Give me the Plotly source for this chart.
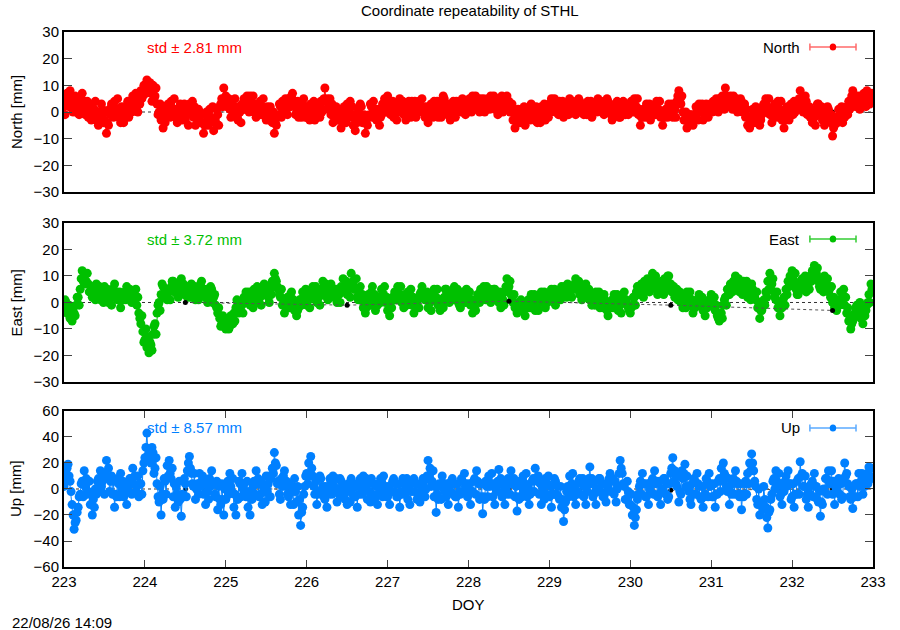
import plotly.graph_objects as go

# solutions at DOY 223.000 + k/40
north = [
    2, 4, 6, 8, 5, 3, 0, 2, 5, 7, 4, 1, -2, 0, 3, 1, -3, -5, -2, 1,
    -3, -8, -5, -1, 2, 4, 1, -2, -4, -1, 2, 0, -2, 3, 6, 4, 2, 5, 8, 6,
    10, 12, 9, 7, 10, 6, 3, 0, -3, -6, -4, -1, 2, 4, 1, -2, -4, -1, 2, 0,
    -3, -1, 3, 1, -2, -5, -3, 0, -4, -8, -5, -2, 1, -3, -7, -4, -1, 2, 5, 9,
    6, 3, 1, 4, 2, -1, -3, 0, 3, 5, 2, 4, 6, 3, 0, -2, 1, 4, 2, -1,
    -3, 0, 2, -4, -8, -5, -1, 2, 4, 1, 3, 5, 2, 7, 4, 1, -2, 1, 3, 0,
    -2, 1, 3, 0, -3, -1, 2, 4, 1, 9, 5, 2, -1, -4, -2, 1, -3, -6, -3, 0,
    3, 1, -2, -5, -7, -4, -1, 2, -3, -8, -5, -1, 2, 4, 1, -3, -5, -1, 2, 4,
    6, 3, 1, -2, 0, 3, 5, 2, -1, -3, 0, 2, 4, 1, -2, 0, 3, 5, 2, -1,
    -4, -1, 2, 4, 1, -2, 1, 3, 5, 2, 0, -3, -1, 2, 4, 1, 3, 5, 2, 0,
    2, 4, 6, 3, 1, 3, 5, 2, 0, 2, 4, 6, 3, 1, 2, 5, 3, 0, 2, 6,
    4, 1, -3, -6, -4, -1, 1, -2, -5, -3, 0, 3, 1, -2, -4, -1, 2, 0, -3, 1,
    3, 5, 2, 0, 2, 4, 1, -2, 0, 3, 5, 2, 0, -1, 2, 4, 1, -1, 2, 4,
    1, -2, 0, 3, 5, 2, 0, -1, 2, 4, 1, -3, -1, 2, 0, -2, 1, 3, 1, -1,
    2, 4, 5, 2, -1, -5, -2, 1, 3, 0, -3, -1, 2, 4, 1, -2, -5, -2, 1, 3,
    0, -2, 1, 4, 8, 3, 0, -3, -6, -4, -1, -5, -2, 1, 3, 0, -3, -1, 2, 0,
    2, 4, 1, 3, 5, 2, 4, 9, 5, 2, 4, 6, 3, 0, 2, 4, 1, -2, -5, -6,
    -3, -1, 2, -2, -5, -1, 3, 5, 2, -1, -4, -2, 1, 4, 1, -3, -6, -2, 1, -1,
    2, 4, 1, 3, 8, 4, 2, 4, 1, -2, -4, -2, 1, 3, 0, -3, -5, -2, 1, -4,
    -9, -5, -2, 1, -1, -4, -2, 2, 4, 3, 8, 5, 2, 4, 6, 3, 5, 8, 6, 4,
]

# solutions at DOY 223.0125 + k/40
north_b = [
    -1, 7, 2, 3, 0, 6, 4, -1, 1, 3, -1, 4, 2, -3, -2, 4, 0, -1, 3, -4,
    0, -4, 1, 3, -2, 0, 5, 1, 2, -4, -2, 4, 1, 0, 2, 7, 0, 3, 5, 10,
    7, 8, 11, 4, 5, 9, -1, 3, 0, -2, 2, 3, -2, 0, 5, 1, 0, 3, -3, 3,
    1, -5, 0, 4, 2, -1, 1, -4, -1, -5, 0, -5, -2, 2, -3, 1, -5, 3, 2, 5,
    2, 5, -2, 0, 5, 2, 1, -4, 1, 1, 6, 0, 2, 6, 3, -1, 3, -1, 5, 1,
    2, -3, -2, 0, -4, -2, 3, -2, 0, 5, -1, 2, 6, 3, -1, 4, 2, -2, 5, -2,
    2, -3, -1, 4, 1, 3, -2, 0, 5, 4, 1, 5, 3, 0, 2, -3, 0, -2, 2, -4,
    -1, 4, 2, -1, -3, 1, 3, -4, -1, -4, -2, 3, -2, 0, -3, 1, -2, 3, 5, 0,
    2, -1, 4, 2, -3, 1, 0, 4, 2, 1, 4, -2, 0, 4, 2, 4, 0, 1, -2, 2,
    0, 3, -2, 0, 4, 2, -2, 6, 0, -1, 3, 1, 4, -2, 0, 4, 0, 2, -1, 3,
    5, 0, 3, 6, 4, 0, 2, 5, 3, 5, 1, 2, 6, 4, -1, 2, 6, 3, 5, 2,
    0, 3, 0, -2, 1, -4, -3, 2, 0, 1, -3, -1, -3, 2, 0, -4, -2, 3, 0, -2,
    0, 1, 5, 3, -1, 0, 4, 1, 3, -1, 1, 4, 3, 2, 5, 0, 3, 2, -1, 0,
    4, 2, 3, 0, 1, 4, 3, 2, 5, 0, -1, 1, 3, 4, -2, 2, 4, -1, 3, 1,
    4, 0, 2, 5, 1, -2, 1, -2, 1, 3, 0, 2, -1, 1, 4, 0, -2, 1, -2, 0,
    3, 2, -2, 6, 4, 6, -3, 0, -3, -1, -4, -1, 2, -3, 0, 3, 1, 3, -2, 3,
    0, 1, 5, 0, 2, 6, 1, 6, 3, 6, 1, 3, 5, 3, 5, 0, 3, 1, -2, -3,
    1, -4, -1, 1, -3, 2, 0, 2, 5, 1, -1, 3, -2, 0, 4, -1, -3, 2, -3, 3,
    -1, 0, 4, 5, 2, 0, 6, -1, 2, 1, 0, -5, 3, -1, 2, 0, -1, 2, -3, -1,
    -6, -2, -4, -3, 2, 0, 1, -1, 1, 6, 4, 2, 6, 1, 3, 7, 2, 4, 3, 7,
]

east = [
    -2, 0, -3, -6, -7, -4, -1, 2, 5, 12, 10, 8, 7, 4, 2, 5, 7, 4, 1, 3,
    6, 3, 0, 2, 5, 7, 4, 1, -2, 1, 4, 6, 3, 1, 4, 2, -1, -4, -8, -11,
    -14, -17, -19, -16, -12, -8, -4, 0, 3, 6, 3, 1, 4, 6, 8, 5, 3, 6, 9, 7,
    4, 2, 5, 7, 4, 1, 3, 6, 8, 5, 2, 0, 3, 5, 2, -1, -4, -6, -8, -9,
    -10, -8, -9, -6, -4, -2, 0, -3, -1, 2, 4, 1, -1, 2, 5, 3, 0, 2, 5, 7,
    4, 2, 5, 8, 11, 8, 5, 2, -1, -4, -2, 1, 3, 0, -3, -5, -2, 1, 4, 2,
    -1, 1, 4, 6, 3, 0, 2, 5, 8, 5, 2, 4, 7, 5, 2, 0, 3, 6, 9, 6,
    3, 7, 11, 8, 5, 2, 4, 1, -2, -4, -1, 2, 4, 1, -3, -1, 2, 5, 3, 0,
    -3, -5, -2, 1, 4, 6, 3, 0, -2, 1, 4, 2, -1, -4, -2, 1, 3, 6, 4, 1,
    -2, 0, 3, 5, 2, -1, -3, 0, 2, 5, 3, 1, 4, 6, 3, 0, -2, 1, 3, 5,
    2, -1, -4, -2, 1, 3, 5, 2, 4, 6, 3, 0, 2, 5, 3, 0, -2, 1, 4, 9,
    6, 3, 0, -2, -4, -1, 1, -3, -5, -2, 1, 3, 0, -3, -1, 2, 4, 1, -2, 0,
    3, 5, 2, -1, 1, 4, 6, 3, 5, 7, 4, 2, 5, 9, 6, 3, 1, 4, 7, 4,
    1, -1, 2, 4, 1, -2, 0, 3, -1, -5, -2, 1, 3, 0, -3, -1, 2, 4, 1, -2,
    -4, -1, 2, 4, 6, 3, 5, 8, 5, 7, 9, 11, 8, 5, 7, 4, 6, 9, 7, 10,
    7, 4, 2, 5, 3, 0, -2, 1, 4, 2, -1, -4, -2, 1, 3, 0, -3, -5, -2, 1,
    3, 0, -3, -5, -7, -4, -1, 2, 5, 3, 6, 8, 10, 7, 4, 6, 8, 5, 2, 4,
    7, 4, 1, -2, -6, -3, 1, 4, 8, 11, 7, 4, 1, -2, -5, -2, 2, 5, 8, 10,
    12, 8, 5, 3, 6, 9, 7, 4, 7, 10, 12, 14, 11, 8, 5, 7, 10, 7, 4, 2,
    0, -2, -3, 1, 4, 2, -1, -4, -7, -10, -7, -4, -1, -3, -6, -8, -5, -1, 3, 7,
]

east_b = [
    1, -4, -1, -3, -2, -5, 2, -1, 9, 8, 7, 11, 4, 6, 5, 1, 3, 6, 4, 0,
    2, 5, 3, -1, 2, 4, 1, 4, 2, 3, 1, 2, 5, 0, 1, 5, 2, -6, -5, -15,
    -10, -13, -15, -18, -9, -12, -1, -3, 7, 2, 5, 4, 1, 8, 4, 7, 2, 8, 4, 3,
    6, 5, 2, 3, 6, 4, 1, 7, 4, 3, 5, 1, 6, 0, 3, -2, -2, -9, -5, -6,
    -7, -10, -5, -8, -7, 1, -4, 0, -4, 0, 2, 4, 1, -2, 2, 6, 3, -1, 3, 4,
    6, 0, 3, 6, 9, 6, 3, 5, 1, -1, 2, -2, 4, 1, -1, -3, 1, -1, 2, 5,
    3, -2, 2, 3, 6, 3, -1, 3, 4, 7, 1, 6, 4, 2, 5, 3, 0, 4, 5, 8,
    5, 2, 7, 5, 9, 1, 6, 3, 1, -2, 3, -1, 6, 3, -1, 2, 0, 3, 6, 2,
    0, -2, 2, 4, 1, 3, 6, 2, 3, -1, 0, 5, 2, -1, 1, -2, 4, 2, 1, 4,
    2, -3, 1, 2, 5, 1, 1, -2, 5, 2, 0, 4, 1, 3, 5, -1, 2, 4, 0, 2,
    4, 1, 0, -3, 3, 0, 2, 6, 1, 3, 5, 3, 5, 2, 1, 4, 2, -1, 6, 5,
    8, 1, 3, -1, 0, -3, -2, 0, -2, 1, -2, 0, 3, 1, -3, 0, 1, 4, 0, 3,
    1, 2, 5, 2, 3, 1, 3, 6, 2, 4, 6, 5, 7, 5, 8, 5, 3, 6, 2, 5,
    3, 2, -1, 2, 4, 1, -2, 1, -3, -1, 0, -2, 1, 3, 0, -4, 0, 1, -1, -3,
    -2, 2, -1, 6, 3, 7, 2, 5, 9, 4, 6, 8, 10, 3, 5, 8, 3, 6, 10, 5,
    4, 6, 5, 1, 4, 2, 1, -2, 1, 4, 1, -2, 0, -1, 1, 2, -1, -2, 0, -1,
    1, 2, -1, -6, -4, -6, 1, -1, 3, 7, 4, 5, 7, 9, 6, 3, 5, 8, 5, 1,
    5, 2, 4, 0, -3, -1, -1, 2, 5, 8, 9, 2, 4, 0, -2, 1, -1, 3, 6, 7,
    9, 11, 3, 6, 8, 5, 10, 6, 5, 8, 9, 11, 13, 6, 9, 4, 7, 9, 5, 6,
    2, 1, 0, -1, 0, 5, 2, -2, -5, -8, -5, -2, -5, 0, -2, -5, -3, 0, 0, 5,
]

up = [
    2, 12, 19, 6, -12, -31, -24, -14, -4, 6, 14, 8, -2, -12, -20, -14, -4, 8, 14, 6,
    -4, 22, 16, 6, -4, -14, -6, 4, 12, 6, -4, -12, -2, 8, 16, 10, 2, -6, 4, 14,
    24, 43, 30, 20, 28, 16, 4, -10, -20, -8, 6, 18, 22, 8, -6, -14, -4, 6, -21, -6,
    4, 14, 25, 12, 2, -8, 4, 12, 6, -4, -12, -2, 8, 14, 4, -6, -16, -8, 4, -20,
    -8, 6, 12, -2, -14, -20, -8, 4, 12, 4, -6, -14, -20, -8, 6, 14, 8, -4, -12, -2,
    10, 4, -6, 16, 28, 18, 6, -8, 2, 14, 6, -6, -12, -2, 8, -10, -20, -28, -14, 2,
    12, 20, 25, 10, -4, -12, -2, 8, 2, -8, -14, -4, 6, 10, 0, -10, -4, 6, 2, -8,
    -12, -2, 8, 4, -6, -14, -4, 6, 10, 0, -8, -2, 8, 4, -6, -12, -2, 6, 10, 2,
    -6, -12, -2, 8, 4, -6, -14, -4, 6, 2, -8, -12, -2, 8, 4, -4, -10, -2, 6, 0,
    22, 16, 6, -6, -18, -8, 2, 10, 4, -6, -12, -2, 8, 4, -6, -14, -4, 6, 12, 4,
    -4, -12, -2, 8, 14, 4, -6, -19, -8, 2, 10, 4, -6, -12, -2, 15, 8, -2, -12, -4,
    6, 14, 4, -6, -17, -8, 2, 10, 4, -6, -12, -2, 8, 16, 6, -4, -12, -2, 8, 4,
    -6, -14, -4, 6, 2, -8, -14, -25, -10, 2, 10, 4, -6, -12, -2, 8, 4, -6, -12, -2,
    17, 8, -4, -12, -2, 8, 4, -6, -10, 2, 12, 6, -4, -10, 2, 22, 12, 2, -8, -2,
    -12, -20, -28, -16, -4, 6, 12, 4, -6, -12, -2, 8, 14, 6, -4, -12, -2, 8, 4, -6,
    12, 24, 14, 2, -10, -4, 8, 19, 10, -2, -12, -4, 6, 12, 2, -8, -14, -4, 6, 12,
    4, -6, -14, -4, 8, 16, 20, 10, -2, -12, -4, 8, 14, 4, -6, -16, -6, 6, 12, 20,
    27, 14, 2, -12, -20, -10, 2, -14, -30, -16, -4, 8, 14, 4, -6, -12, -2, 10, 14, 4,
    -6, -14, -4, 8, 21, 12, 2, -8, -14, -4, 6, 12, 2, -10, -21, -12, -2, 8, 14, 6,
    -4, -12, -2, 8, 4, -6, 20, 12, 2, -8, -15, -6, 4, 12, 6, -4, 2, 12, 17, 8,
]

up_b = [
    8, 16, 10, -2, -20, -26, -18, -6, 4, -6, 2, -4, 6, -4, -8, 0, 6, -2, 2, 10,
    12, 8, -2, 10, 6, -4, 8, -6, 0, -6, 4, 2, 8, -4, 4, -2, 10, 4, -4, 20,
    32, 26, 22, 32, 12, 24, -6, 2, -4, 8, -4, 10, 12, 16, 4, 2, -10, -8, -4, 8,
    -6, 20, 16, 4, 12, 0, -4, 2, 10, 6, 4, -8, 2, 4, -4, 6, 2, -12, -8, 0,
    4, -4, 2, 8, -4, -6, 6, -6, 0, -4, 6, -2, -4, 2, -4, 4, -6, 6, 2, -10,
    -2, 10, 8, 12, 20, 4, -4, 8, 10, 2, -4, 4, 2, -12, -2, 2, -8, -18, -4, 10,
    4, 10, 16, 2, 6, -4, 10, -4, -6, 2, 0, 8, -4, 2, 8, 0, 8, -6, -4, 2,
    4, -10, 0, -6, 4, 2, 8, -4, 2, 8, 4, -10, -4, -8, 2, 4, 8, -6, 0, -6,
    2, -2, 6, -2, -6, 4, -2, 8, -4, 8, 0, 4, 6, -2, -8, 4, 2, 8, -6, 10,
    10, 2, 14, 2, -4, 4, -8, 2, -2, 4, 2, 6, -4, -6, 4, -2, 8, -2, 2, -6,
    4, -2, 6, -4, 6, -8, 4, -6, 6, -6, 2, 12, 4, 0, 6, 4, -6, 6, 0, 8,
    -4, 4, 8, 2, -6, 6, -6, -2, 12, 2, -4, 6, -2, 8, 10, 4, 2, -8, -4, 10,
    2, -4, 8, -4, -6, 2, -8, -16, -2, -6, 0, 12, 2, -4, 6, -4, 8, 2, 4, 8,
    4, -6, 6, 0, 8, -2, -6, 4, -2, 8, -2, 8, 6, 0, 12, 16, 4, -8, 6, -12,
    -4, -14, -22, -8, 2, -4, 4, -6, 4, 0, 6, -4, 4, -6, 6, 0, 8, -4, -8, 4,
    16, 6, 4, 10, -2, 14, 12, 2, 0, -8, 4, 8, -4, 4, -6, 2, -6, 8, -6, 2,
    -6, 4, -4, 6, -2, 6, 12, 2, 8, -2, 4, -4, 6, -4, 4, -4, 4, -4, 4, 14,
    20, 6, -8, 0, -12, -16, -8, -22, -18, -8, 6, 0, 6, 12, -4, 2, 6, 2, 4, -8,
    4, -4, 6, -4, 10, 2, 10, -4, 2, 4, -6, 2, -8, -2, -10, 0, 8, -4, 4, 14,
    6, 2, 6, -4, -8, 8, 10, 4, -6, 0, -6, 4, -6, 2, 12, 6, 8, 4, 10, 16,
]

for arr in [north, north_b, east, east_b, up, up_b]:
    assert len(arr) == 400
doy = [223 + k / 40 for k in range(400)]
doy_b = [223.0125 + k / 40 for k in range(400)]

# daily combined solutions (black)
daily_doy = [224.5, 226.5, 228.5, 230.5, 232.5]
daily_north = [0, 0, 0, 0, 0]
daily_east = [0, -1, 0.5, -1, -3]
daily_up = [0, 0, 0, -1, 0]

names = ["North", "East", "Up"]
colors = ["#ff0000", "#00c000", "#0080ff"]
key_colors = ["#ff6a6a", "#33cc33", "#5aaaff"]
stds = ["2.81", "3.72", "8.57"]
series = [(north, north_b), (east, east_b), (up, up_b)]
daily = [daily_north, daily_east, daily_up]
yranges = [[-30, 30], [-30, 30], [-60, 60]]
dticks = [10, 10, 20]
domains = [[0.7009, 1.0], [0.3458, 0.643], [0.0, 0.2916]]
key_y = [0.906, 0.899, 0.891]
panel_px = [160, 159, 156]

font = "Liberation Sans, Arial, sans-serif"
fs = 15
fig = go.Figure()

for i in range(3):
    ax = "" if i == 0 else str(i + 1)
    a, b = series[i]
    xs, ys = zip(*sorted(zip(doy + doy_b, a + b)))
    black = go.Scatter(
        x=daily_doy, y=daily[i], mode="lines+markers",
        line=dict(color="#555555", width=1, dash="dot"),
        marker=dict(color="black", size=5),
        xaxis="x" + ax, yaxis="y" + ax, showlegend=False,
    )
    coloured = go.Scatter(
        x=list(xs), y=list(ys), mode="lines+markers", name=names[i],
        line=dict(color=colors[i], width=1),
        marker=dict(color=colors[i], size=9, symbol="circle"),
        xaxis="x" + ax, yaxis="y" + ax, showlegend=False,
    )
    if i == 1:
        fig.add_trace(coloured)
        fig.add_trace(black)
    else:
        fig.add_trace(black)
        fig.add_trace(coloured)

    fig.update_layout(**{
        "xaxis" + ax: dict(
            range=[223, 233], dtick=1, domain=[0, 1],
            showline=True, linecolor="black", linewidth=2, mirror="ticks",
            ticks="inside" if i == 2 else "", ticklen=7, tickcolor="#444444",
            showticklabels=(i == 2), showgrid=False, zeroline=False,
            anchor="y" + ax, matches=None if i == 0 else "x",
            tickfont=dict(family=font, size=fs, color="black"),
        ),
        "yaxis" + ax: dict(
            range=yranges[i], dtick=dticks[i], domain=domains[i],
            showline=True, linecolor="black", linewidth=2, mirror="ticks",
            ticks="inside", ticklen=8, tickcolor="#444444",
            showgrid=False, zeroline=False, anchor="x" + ax,
            tickfont=dict(family=font, size=fs, color="black"),
        ),
    })

    xd = "x" + ax + " domain"
    yd = "y" + ax + " domain"
    cap = 3.5 / panel_px[i]
    ky = key_y[i]
    # zero reference line
    fig.add_shape(type="line", xref=xd, yref="y" + ax, x0=0, x1=1, y0=0, y1=0,
                  line=dict(color="#333333", width=1, dash="dot"), layer="below")
    # legend key: errorbar with point
    fig.add_shape(type="line", xref=xd, yref=yd, x0=0.922, x1=0.979, y0=ky, y1=ky,
                  line=dict(color=key_colors[i], width=1.5))
    for kx in [0.922, 0.979]:
        fig.add_shape(type="line", xref=xd, yref=yd, x0=kx, x1=kx, y0=ky - cap, y1=ky + cap,
                      line=dict(color=key_colors[i], width=1.5))
    fig.add_shape(type="circle", xref=xd, yref=yd, x0=0.9465, x1=0.9545,
                  y0=ky - 3.5 / panel_px[i], y1=ky + 3.5 / panel_px[i],
                  fillcolor=colors[i], line=dict(color=colors[i], width=0))
    fig.add_annotation(xref=xd, yref=yd, x=0.912, y=ky, text=names[i],
                       showarrow=False, xanchor="right", yanchor="middle",
                       font=dict(family=font, size=fs, color="black"))
    fig.add_annotation(xref=xd, yref=yd, x=0.1, y=ky, text="std \u00b1 " + stds[i] + " mm",
                       showarrow=False, xanchor="left", yanchor="middle",
                       font=dict(family=font, size=fs, color=colors[i]))
    ymid = (domains[i][0] + domains[i][1]) / 2
    fig.add_annotation(xref="paper", yref="paper", x=-0.0593, y=ymid,
                       text=names[i] + " [mm]", textangle=-90, showarrow=False,
                       xanchor="center", yanchor="middle",
                       font=dict(family=font, size=fs, color="black"))

fig.add_annotation(xref="paper", yref="paper", x=0.5, y=-0.071, text="DOY",
                   showarrow=False, xanchor="center", yanchor="middle",
                   font=dict(family=font, size=fs, color="black"))
fig.add_annotation(xref="paper", yref="paper", x=-0.0667, y=-0.103, text="22/08/26 14:09",
                   showarrow=False, xanchor="left", yanchor="middle",
                   font=dict(family=font, size=fs, color="black"))

fig.update_layout(
    width=900, height=630,
    margin=dict(l=64, r=27, t=32, b=63),
    paper_bgcolor="white", plot_bgcolor="white",
    title=dict(text="Coordinate repeatability of STHL", x=0.522, xanchor="center",
               y=1 - 11 / 630, yanchor="middle",
               font=dict(family=font, size=fs, color="black")),
    showlegend=False,
)

fig.write_html("out.html", config={"displayModeBar": False},
               post_script="document.body.style.margin='0px';")
